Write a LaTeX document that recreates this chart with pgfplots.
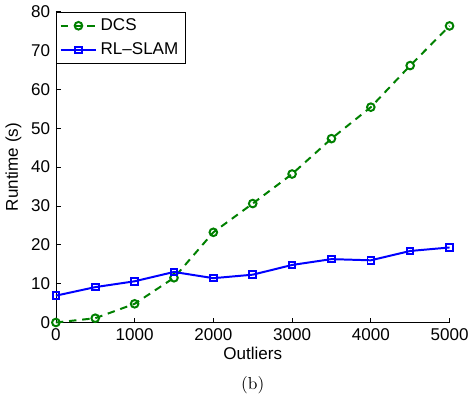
\documentclass[border=0pt]{standalone}
\usepackage{pgfplots}
\pgfplotsset{compat=1.18}
\usepackage{fontspec}
\newfontfamily\hv[Ligatures=TeX]{Liberation Sans}
\definecolor{mgreen}{RGB}{0,128,0}
\definecolor{mblue}{RGB}{0,0,255}
\begin{document}
\begin{tikzpicture}
\begin{axis}[
    name=ax,
    width=238pt, height=188pt,
    scale only axis,
    xmin=0, xmax=5000,
    ymin=0, ymax=80,
    xtick={0,1000,...,5000},
    ytick={0,10,...,80},
    axis x line*=bottom,
    axis y line*=left,
    tick align=inside,
    major tick length=3pt,
    tick style={black, line width=0.4pt},
    axis line style={black, line width=0.4pt, -},
    scaled x ticks=false,
    /pgf/number format/1000 sep={},
    /pgf/number format/assume math mode=true,
    ticklabel style={font=\hv\fontsize{10.3}{12}\selectfont},
    xlabel={Outliers},
    ylabel={Runtime (s)},
    label style={font=\hv\fontsize{10.3}{12}\selectfont},
    xlabel style={yshift=3pt},
    ylabel style={yshift=-1pt},
    legend style={at={(rel axis cs:0,1)}, anchor=north west,
        font=\hv\fontsize{10.3}{12}\selectfont, draw=black, line width=0.5pt,
        inner sep=2pt, row sep=2pt},
    legend image code/.code={
        \draw[mark repeat=2, mark phase=2]
        plot coordinates {(0cm,0cm) (0.38cm,0cm) (0.76cm,0cm)};},
    legend cell align=left,
    clip=false,
]
\addplot[mgreen, line width=1.2pt, dash pattern=on 4.5pt off 3.5pt,
    mark=o, mark size=2.3pt, mark options={solid}]
    coordinates {(0,0) (500,1.1) (1000,4.8) (1500,11.5) (2000,23.2) (2500,30.6)
    (3000,38.2) (3500,47.3) (4000,55.4) (4500,66.1) (5000,76.3)};
\addplot[mblue, line width=1.2pt, mark=square, mark size=2pt, mark options={solid}]
    coordinates {(0,6.9) (500,9.1) (1000,10.6) (1500,13.0) (2000,11.4) (2500,12.3)
    (3000,14.8) (3500,16.3) (4000,16.0) (4500,18.4) (5000,19.3)};
\legend{DCS, RL--SLAM}
\end{axis}
\node[font=\fontsize{10.5}{12}\selectfont] at ([yshift=-38pt]ax.south) {(b)};
\end{tikzpicture}
\end{document}
